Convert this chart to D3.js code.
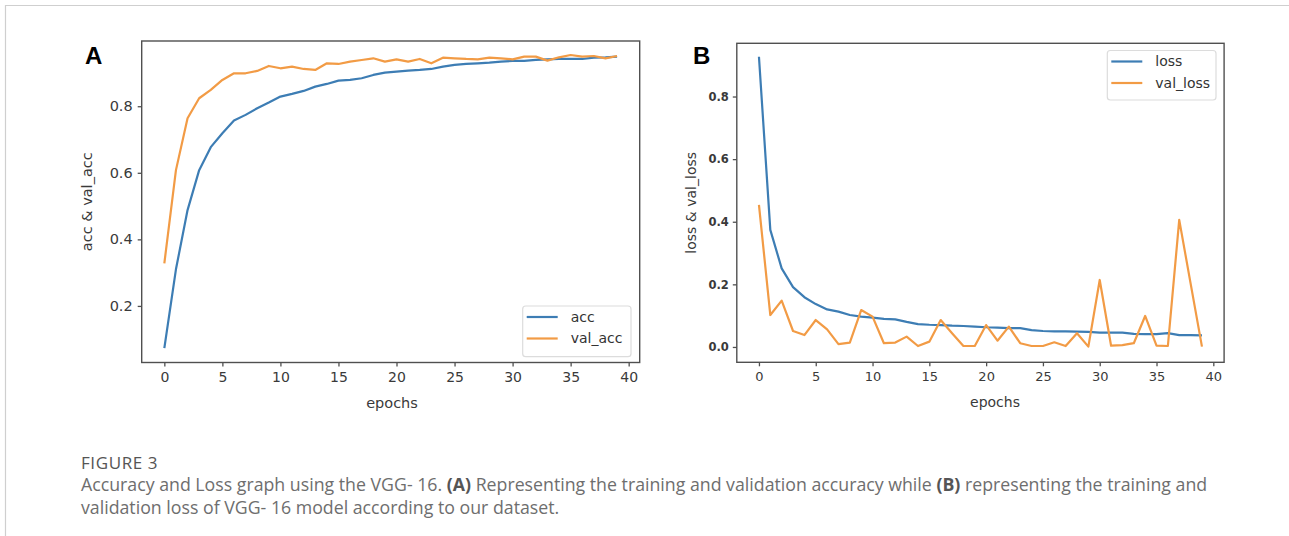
<!DOCTYPE html>
<html><head><meta charset="utf-8">
<script src="https://cdn.jsdelivr.net/npm/d3@7"></script>
<style>body{margin:0;background:#fff}svg{display:block}</style>
</head><body><svg id="c" width="1289" height="536"></svg>
<script>
const epochs = [0,1,2,3,4,5,6,7,8,9,10,11,12,13,14,15,16,17,18,19,20,21,22,23,24,25,26,27,28,29,30,31,32,33,34,35,36,37,38,39];
const acc = [0.073,0.31,0.488,0.608,0.677,0.719,0.757,0.774,0.794,0.811,0.829,0.837,0.846,0.859,0.867,0.877,0.879,0.884,0.894,0.901,0.904,0.907,0.909,0.912,0.919,0.924,0.927,0.929,0.931,0.934,0.936,0.936,0.939,0.941,0.942,0.942,0.942,0.946,0.947,0.949];
const valAcc = [0.328,0.608,0.764,0.824,0.849,0.879,0.899,0.899,0.906,0.921,0.914,0.919,0.912,0.909,0.929,0.927,0.934,0.939,0.944,0.934,0.941,0.934,0.942,0.929,0.946,0.944,0.942,0.941,0.946,0.944,0.941,0.949,0.949,0.937,0.947,0.954,0.949,0.951,0.944,0.951];
const loss = [0.927,0.374,0.251,0.191,0.159,0.137,0.120,0.113,0.102,0.097,0.094,0.090,0.088,0.080,0.073,0.071,0.070,0.068,0.067,0.065,0.063,0.062,0.060,0.060,0.054,0.051,0.050,0.050,0.049,0.048,0.046,0.046,0.046,0.042,0.041,0.041,0.044,0.038,0.038,0.037];
const valLoss = [0.454,0.102,0.148,0.051,0.038,0.086,0.056,0.009,0.014,0.118,0.097,0.012,0.014,0.033,0.003,0.017,0.086,0.044,0.003,0.003,0.070,0.020,0.065,0.012,0.003,0.003,0.015,0.003,0.044,0.001,0.214,0.004,0.006,0.012,0.099,0.004,0.003,0.406,0.203,0.001];
const xTicks = [0,5,10,15,20,25,30,35,40];
const accTicks = [0.2,0.4,0.6,0.8];
const lossTicks = [0.0,0.2,0.4,0.6,0.8];
const xDomain = [-1.95, 40.95];
const accDomain = [0.03, 0.996];
const lossDomain = [-0.049, 0.97];
const accNames = ["acc","val_acc"];
const lossNames = ["loss","val_loss"];
const colors = ["#3d7db4","#f29b45"];

const svg = d3.select("#c");
svg.append("rect").attr("width",1289).attr("height",536).attr("fill","#fff");
// card border
svg.append("line").attr("x1",6).attr("x2",1289).attr("y1",5.5).attr("y2",5.5).attr("stroke","#cfcfcf").attr("stroke-width",1.2);
svg.append("line").attr("x1",5.5).attr("x2",5.5).attr("y1",5).attr("y2",536).attr("stroke","#cfcfcf").attr("stroke-width",1.2);

const spine = "#505050";
function panel(o){
  const g = svg.append("g");
  const x = d3.scaleLinear().domain(xDomain).range([o.left,o.right]);
  const y = d3.scaleLinear().domain(o.yDomain).range([o.bottom,o.top]);
  const xa = g.append("g").attr("transform",`translate(0,${o.bottom})`)
    .call(d3.axisBottom(x).tickValues(xTicks).tickSize(4).tickPadding(o.xPad).tickFormat(d3.format("d")));
  xa.select(".domain").remove();
  xa.selectAll("line").attr("stroke",spine).attr("stroke-width",1.3);
  xa.selectAll("text").attr("fill","#3a3a3a").attr("font-family","DejaVu Sans").attr("font-size",o.xFs);
  const ya = g.append("g").attr("transform",`translate(${o.left},0)`)
    .call(d3.axisLeft(y).tickValues(o.yTicks).tickSize(4).tickPadding(o.yPad).tickFormat(d3.format(".1f")));
  ya.select(".domain").remove();
  ya.selectAll("line").attr("stroke",spine).attr("stroke-width",1.3);
  ya.selectAll("text").attr("fill","#3a3a3a").attr("font-family","DejaVu Sans").attr("font-size",o.yFs).attr("font-weight",o.yFw||"normal");
  const line = d3.line().x((d,i)=>x(epochs[i])).y(d=>y(d));
  o.series.forEach((s,i)=>{
    g.append("path").attr("d",line(s)).attr("fill","none").attr("stroke",colors[i]).attr("stroke-width",2.2).attr("stroke-linejoin","round");
  });
  g.append("rect").attr("x",o.left).attr("y",o.top).attr("width",o.right-o.left).attr("height",o.bottom-o.top)
    .attr("fill","none").attr("stroke",spine).attr("stroke-width",1.4);
  g.append("text").attr("x",o.xlabX).attr("y",o.xlabY).attr("text-anchor","middle").attr("font-family","DejaVu Sans")
    .attr("font-size",o.labFs).attr("fill","#3a3a3a").text("epochs");
  g.append("text").attr("transform",`translate(${o.ylabX},${(o.top+o.bottom)/2}) rotate(-90)`).attr("text-anchor","middle")
    .attr("font-family","DejaVu Sans").attr("font-size",o.labFs).attr("fill","#3a3a3a").text(o.ylabel);
  g.append("text").attr("x",o.letterX).attr("y",63.5).attr("font-family","Liberation Sans").attr("font-weight","bold")
    .attr("font-size",24).attr("fill","#000").text(o.letter);
  const L = o.legend;
  g.append("rect").attr("x",L.x).attr("y",L.y).attr("width",L.w).attr("height",L.h).attr("rx",3)
    .attr("fill","#fff").attr("stroke","#dcdcdc").attr("stroke-width",1.2);
  o.names.forEach((n,i)=>{
    const yy = L.y + 11 + i*21.5;
    g.append("line").attr("x1",L.x+4).attr("x2",L.x+35).attr("y1",yy).attr("y2",yy).attr("stroke",colors[i]).attr("stroke-width",2.2);
    g.append("text").attr("x",L.x+48).attr("y",yy).attr("dy","0.35em").attr("font-family","DejaVu Sans")
      .attr("font-size",14).attr("fill","#333").text(n);
  });
}

panel({left:141.7,right:639.7,top:41,bottom:362.5,yDomain:accDomain,yTicks:accTicks,series:[acc,valAcc],names:accNames,
  ylabel:"acc & val_acc",letter:"A",letterX:85,xFs:14,yFs:14.5,xPad:6,yPad:5,labFs:14.5,xlabX:392,xlabY:408,ylabX:92,
  legend:{x:522.7,y:306,w:108.3,h:50.7}});
panel({left:736.8,right:1224.1,top:43.3,bottom:362.3,yDomain:lossDomain,yTicks:lossTicks,series:[loss,valLoss],names:lossNames,
  ylabel:"loss & val_loss",letter:"B",letterX:693,xFs:13,yFs:11.5,yFw:"bold",xPad:5,yPad:4,labFs:14,xlabX:995,xlabY:407,ylabX:696,
  legend:{x:1107.3,y:50.5,w:108.7,h:49.5}});

const cap = svg.append("g").attr("font-family","Open Sans").attr("fill","#6e6e6e");
cap.append("text").attr("x",81).attr("y",469).attr("font-size",17).attr("fill","#555").attr("letter-spacing",0.6).text("FIGURE 3");
const t1 = cap.append("text").attr("x",81).attr("y",491).attr("font-size",16);
t1.append("tspan").text("Accuracy and Loss graph using the VGG- 16. ");
t1.append("tspan").attr("font-weight","bold").attr("fill","#555").text("(A)");
t1.append("tspan").text(" Representing the training and validation accuracy while ");
t1.append("tspan").attr("font-weight","bold").attr("fill","#555").text("(B)");
t1.append("tspan").text(" representing the training and");
const t2 = cap.append("text").attr("x",81).attr("y",514).attr("font-size",16).text("validation loss of VGG- 16 model according to our dataset.");
const w1 = t1.node().getComputedTextLength();
const fs = 16*1127/w1;
t1.attr("font-size",fs); t2.attr("font-size",fs);
</script></body></html>
